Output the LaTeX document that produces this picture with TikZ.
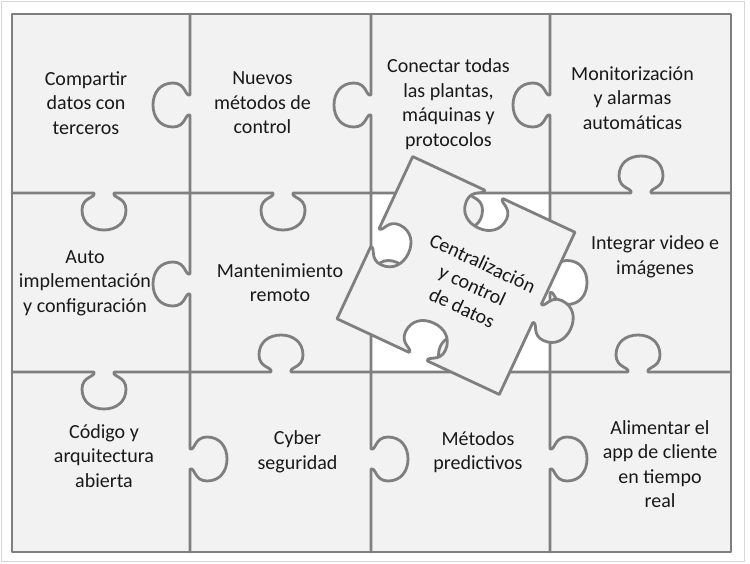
\documentclass[tikz,border=0pt]{standalone}
\usepackage{fontspec}
\setmainfont{Carlito}
\definecolor{pfill}{HTML}{F2F2F2}
\definecolor{pline}{HTML}{7F7F7F}
\definecolor{frameclr}{HTML}{D6D6D6}
% horizontal tab: #1 centre x, #2 line y, #3 traversal sign, #4 knob side (+1 down)
\newcommand\tabh[4]{ -- ({#1-10*(#3)},{#2}) .. controls ({#1-8*(#3)},{#2+5*(#4)}) and ({#1-22*(#3)},{#2+4*(#4)}) .. ({#1-22*(#3)},{#2+17*(#4)}) .. controls ({#1-22*(#3)},{#2+30*(#4)}) and ({#1-12*(#3)},{#2+37*(#4)}) .. ({#1},{#2+37*(#4)}) .. controls ({#1+12*(#3)},{#2+37*(#4)}) and ({#1+22*(#3)},{#2+30*(#4)}) .. ({#1+22*(#3)},{#2+17*(#4)}) .. controls ({#1+22*(#3)},{#2+4*(#4)}) and ({#1+8*(#3)},{#2+5*(#4)}) .. ({#1+10*(#3)},{#2}) }
% vertical tab: #1 centre y, #2 line x, #3 traversal sign (+1 down), #4 knob side (+1 right)
\newcommand\tabv[4]{ -- ({#2},{#1-10*(#3)}) .. controls ({#2+5*(#4)},{#1-8*(#3)}) and ({#2+4*(#4)},{#1-22*(#3)}) .. ({#2+17*(#4)},{#1-22*(#3)}) .. controls ({#2+30*(#4)},{#1-22*(#3)}) and ({#2+37*(#4)},{#1-12*(#3)}) .. ({#2+37*(#4)},{#1}) .. controls ({#2+37*(#4)},{#1+12*(#3)}) and ({#2+30*(#4)},{#1+22*(#3)}) .. ({#2+17*(#4)},{#1+22*(#3)}) .. controls ({#2+4*(#4)},{#1+22*(#3)}) and ({#2+5*(#4)},{#1+8*(#3)}) .. ({#2},{#1+10*(#3)}) }
\begin{document}
\begin{tikzpicture}[x=1pt,y=1pt,yscale=-1,
  edge/.style={draw=pline, line width=2.8pt, line join=round, line cap=round},
  lbl/.style={align=center, font=\fontsize{20}{24.5}\selectfont, text=black!90, inner sep=0pt}]
\useasboundingbox (0,0) rectangle (750,563);
\draw[frameclr, line width=1.2pt] (1.5,1.5) rectangle (744.5,561.5);
% board
\fill[pfill] (12,14) rectangle (731,552);
% hole left by the missing piece
\fill[white] (371,193) \tabh{460.5}{193}{1}{1} -- (550,193) \tabv{282.5}{550}{1}{1} -- (550,372) \tabh{460.5}{372}{-1}{-1} -- (371,372) \tabv{282.5}{371}{-1}{1} -- cycle;
% vertical edges
\draw[edge] (190,14) \tabv{105}{190}{1}{-1} -- (190,193);
\draw[edge] (371,14) \tabv{105}{371}{1}{-1} -- (371,193);
\draw[edge] (550,14) \tabv{105}{550}{1}{-1} -- (550,193);
\draw[edge] (190,193) \tabv{284}{190}{1}{-1} -- (190,372);
\draw[edge] (371,193) \tabv{282.5}{371}{1}{1} -- (371,372);
\draw[edge] (550,193) \tabv{282.5}{550}{1}{1} -- (550,372);
\draw[edge] (190,372) \tabv{459}{190}{1}{1} -- (190,552);
\draw[edge] (371,372) \tabv{459}{371}{1}{1} -- (371,552);
\draw[edge] (550,372) \tabv{459}{550}{1}{1} -- (550,552);
% horizontal edges
\draw[edge] (12,193) \tabh{104}{193}{1}{1} -- (190,193);
\draw[edge] (190,193) \tabh{283}{193}{1}{1} -- (371,193);
\draw[edge] (371,193) \tabh{460.5}{193}{1}{1} -- (550,193);
\draw[edge] (550,193) \tabh{641}{193}{1}{-1} -- (731,193);
\draw[edge] (12,372) \tabh{104}{372}{1}{1} -- (190,372);
\draw[edge] (190,372) \tabh{281}{372}{1}{-1} -- (371,372);
\draw[edge] (371,372) \tabh{460.5}{372}{1}{-1} -- (550,372);
\draw[edge] (550,372) \tabh{638}{372}{1}{-1} -- (731,372);
% outer border
\draw[edge] (12,14) rectangle (731,552);
% displaced rotated piece
\begin{scope}[shift={(456,275.5)}, rotate=25]
\path[edge, fill=pfill] (-89.5,-89.5) \tabh{0}{-89.5}{1}{1} -- (89.5,-89.5) \tabv{0}{89.5}{1}{1} -- (89.5,89.5) \tabh{0}{89.5}{-1}{-1} -- (-89.5,89.5) \tabv{0}{-89.5}{-1}{1} -- cycle;
\node[lbl, rotate=-25] (centr) at (19,2) {Centralización\\y control\\de datos};
\end{scope}
% labels
\node[lbl] (compartir) at (86,103) {Compartir\\datos con\\terceros};
\node[lbl] (nuevos) at (262.5,103) {Nuevos\\métodos de\\control};
\node[lbl] (conectar) at (448.5,104) {Conectar todas\\las plantas,\\máquinas y\\protocolos};
\node[lbl] (monitor) at (632.5,98) {Monitorización\\y alarmas\\automáticas};
\node[lbl] (auto) at (85,283) {Auto\\implementación\\y configuración};
\node[lbl] (manten) at (280,282.5) {Mantenimiento\\remoto};
\node[lbl] (integrar) at (655,257) {Integrar video e\\imágenes};
\node[lbl] (codigo) at (104,456) {Código y\\arquitectura\\abierta};
\node[lbl] (cyber) at (297.5,452) {Cyber\\seguridad};
\node[lbl] (metodos) at (478,452) {Métodos\\predictivos};
\node[lbl] (alimentar) at (660,464) {Alimentar el\\app de cliente\\en tiempo\\real};
\end{tikzpicture}
\end{document}
